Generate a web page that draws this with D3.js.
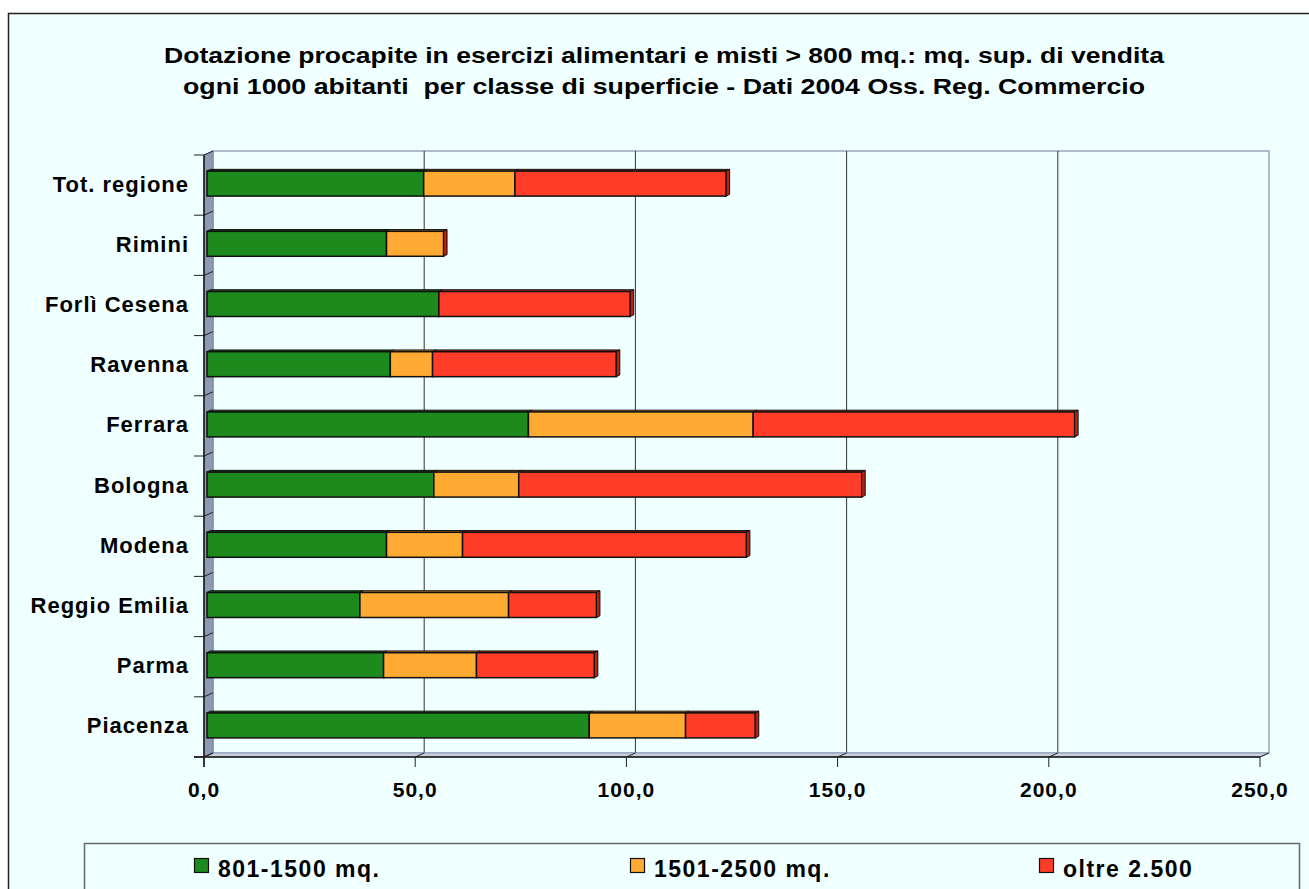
<!DOCTYPE html>
<html>
<head>
<meta charset="utf-8">
<script src="https://cdn.jsdelivr.net/npm/d3@7"></script>
<style>
  body { margin: 0; background: #fff; }
  text { font-family: "Liberation Sans", Arial, sans-serif; font-weight: bold; fill: #000; }
</style>
</head>
<body>
<div id="chart"></div>
<script>
// categories top to bottom, as in the picture
const categories = ['Tot. regione', 'Rimini', 'Forlì Cesena', 'Ravenna', 'Ferrara',
  'Bologna', 'Modena', 'Reggio Emilia', 'Parma', 'Piacenza'];
const seriesNames = ['801-1500 mq.', '1501-2500 mq.', 'oltre 2.500'];
const small = [51.3, 42.5, 54.9, 43.4, 76.1, 53.7, 42.5, 36.2, 41.8, 90.5];
const medium = [21.6, 13.5, 0, 10.0, 53.2, 20.1, 18.0, 35.2, 22.0, 22.8];
const large = [50.0, 0, 45.3, 43.5, 76.1, 81.2, 67.2, 20.8, 27.9, 16.5];
const xTicks = [0, 50, 100, 150, 200, 250];
const titleLines = [
  'Dotazione procapite in esercizi alimentari e misti > 800 mq.: mq. sup. di vendita',
  'ogni 1000 abitanti  per classe di superficie - Dati 2004 Oss. Reg. Commercio'
];

const colors = ['#1C8A1C', '#FFAA33', '#FF3C28'];
const tops = ['#0F5A0F', '#B8761C', '#B02414'];

const W = 1309, H = 889;
const DX = 9, DY = -4; // depth of the 3D walls
const svg = d3.select('#chart').append('svg')
  .attr('width', W).attr('height', H);

// chart area
svg.append('rect')
  .attr('x', 8.5).attr('y', 13.5)
  .attr('width', 1320).attr('height', 900)
  .attr('fill', '#F0FFFF').attr('stroke', '#222').attr('stroke-width', 1.5);

// title
titleLines.forEach((t, i) => {
  svg.append('text')
    .attr('x', 664).attr('y', 63 + i * 31)
    .attr('text-anchor', 'middle')
    .attr('font-size', '22px')
    .attr('textLength', i === 0 ? 1000 : 962)
    .attr('lengthAdjust', 'spacingAndGlyphs')
    .style('white-space', 'pre')
    .text(t);
});

const x = d3.scaleLinear().domain([0, 250]).range([204, 1260]);
const y = d3.scaleBand().domain(categories).range([155, 757])
  .paddingInner(0.585).paddingOuter(0.2925);

const top0 = 155, bot0 = 757;

// back wall
svg.append('rect')
  .attr('x', x(0) + DX).attr('y', top0 + DY)
  .attr('width', x(250) - x(0)).attr('height', bot0 - top0)
  .attr('fill', '#F0FFFF').attr('stroke', '#9AA4BC').attr('stroke-width', 1.5);

// gridlines
svg.selectAll('.grid')
  .data(xTicks.slice(1, -1))
  .enter().append('line')
  .attr('class', 'grid')
  .attr('x1', d => x(d) + DX).attr('x2', d => x(d) + DX)
  .attr('y1', top0 + DY).attr('y2', bot0 + DY)
  .attr('stroke', '#333').attr('stroke-width', 1);

// floor
svg.append('path')
  .attr('d', `M${x(0)},${bot0}L${x(250)},${bot0}L${x(250) + DX},${bot0 + DY}L${x(0) + DX},${bot0 + DY}Z`)
  .attr('fill', '#C8D0DC').attr('stroke', '#8E9AB4').attr('stroke-width', 1);

// left wall
svg.append('path')
  .attr('d', `M${x(0)},${top0}L${x(0) + DX},${top0 + DY}L${x(0) + DX},${bot0 + DY}L${x(0)},${bot0}Z`)
  .attr('fill', '#8E9AB4').attr('stroke', '#7A86A0').attr('stroke-width', 1);

// stacked bars
const table = categories.map((c, i) => ({ cat: c, s0: small[i], s1: medium[i], s2: large[i] }));
const stack = d3.stack().keys(['s0', 's1', 's2'])(table);
const bx = 3, by = -1.5; // bar front face sits a bit inside the depth
const bd = 3.5;           // bar depth

stack.forEach((layer, li) => {
  layer.forEach(seg => {
    const d = seg.data;
    const x0 = x(seg[0]) + bx, x1 = x(seg[1]) + bx;
    const yt = y(d.cat) + by, h = y.bandwidth();
    const g = svg.append('g');
    if (x1 > x0) {
      g.append('path')
        .attr('d', `M${x0},${yt}L${x1},${yt}L${x1 + bd},${yt - bd * 0.5}L${x0 + bd},${yt - bd * 0.5}Z`)
        .attr('fill', tops[li]).attr('stroke', '#111').attr('stroke-width', 1);
      g.append('rect')
        .attr('x', x0).attr('y', yt)
        .attr('width', x1 - x0).attr('height', h)
        .attr('fill', colors[li]).attr('stroke', '#111').attr('stroke-width', 1.5);
    }
    if (li === stack.length - 1) {
      g.append('path')
        .attr('d', `M${x1},${yt}L${x1 + bd},${yt - bd * 0.5}L${x1 + bd},${yt + h - bd * 0.5}L${x1},${yt + h}Z`)
        .attr('fill', tops[li]).attr('stroke', '#111').attr('stroke-width', 1);
    }
  });
});

// axes
const step = y.step();
const yBounds = d3.range(categories.length + 1).map(i => top0 + i * step);
svg.selectAll('.ytick')
  .data(yBounds)
  .enter().append('path')
  .attr('d', d => `M${x(0) - 10},${d}L${x(0)},${d}L${x(0) + DX},${d + DY}`)
  .attr('fill', 'none').attr('stroke', '#222').attr('stroke-width', 1);

svg.append('line')
  .attr('x1', x(0)).attr('x2', x(0))
  .attr('y1', top0).attr('y2', bot0 + 10)
  .attr('stroke', '#111').attr('stroke-width', 1.5);
svg.append('line')
  .attr('x1', x(0) - 10).attr('x2', x(250))
  .attr('y1', bot0).attr('y2', bot0)
  .attr('stroke', '#111').attr('stroke-width', 1.5);

svg.selectAll('.xtick')
  .data(xTicks)
  .enter().append('path')
  .attr('d', d => `M${x(d)},${bot0 + 10}L${x(d)},${bot0}L${x(d) + DX},${bot0 + DY}`)
  .attr('fill', 'none').attr('stroke', '#222').attr('stroke-width', 1);

svg.selectAll('.xlabel')
  .data(xTicks)
  .enter().append('text')
  .attr('x', d => x(d)).attr('y', 797)
  .attr('text-anchor', 'middle')
  .attr('font-size', '21px')
  .attr('letter-spacing', '1px')
  .text(d => d3.format('.1f')(d).replace('.', ','));

svg.selectAll('.ylabel')
  .data(categories)
  .enter().append('text')
  .attr('x', 189).attr('y', d => y(d) + by + y.bandwidth() / 2 + 8)
  .attr('text-anchor', 'end')
  .attr('font-size', '22px')
  .attr('letter-spacing', '1px')
  .text(d => d);

// legend
svg.append('rect')
  .attr('x', 84.5).attr('y', 843.5)
  .attr('width', 1215).attr('height', 70)
  .attr('fill', '#F0FFFF').attr('stroke', '#666').attr('stroke-width', 1.5);

const legendX = [194, 630, 1039];
seriesNames.forEach((s, i) => {
  svg.append('rect')
    .attr('x', legendX[i] + 0.5).attr('y', 858.5)
    .attr('width', 14).attr('height', 14)
    .attr('fill', colors[i]).attr('stroke', '#111').attr('stroke-width', 1.2);
  svg.append('text')
    .attr('x', legendX[i] + 24).attr('y', 877)
    .attr('font-size', '23px')
    .attr('letter-spacing', '1.5px')
    .text(s);
});
</script>
</body>
</html>
